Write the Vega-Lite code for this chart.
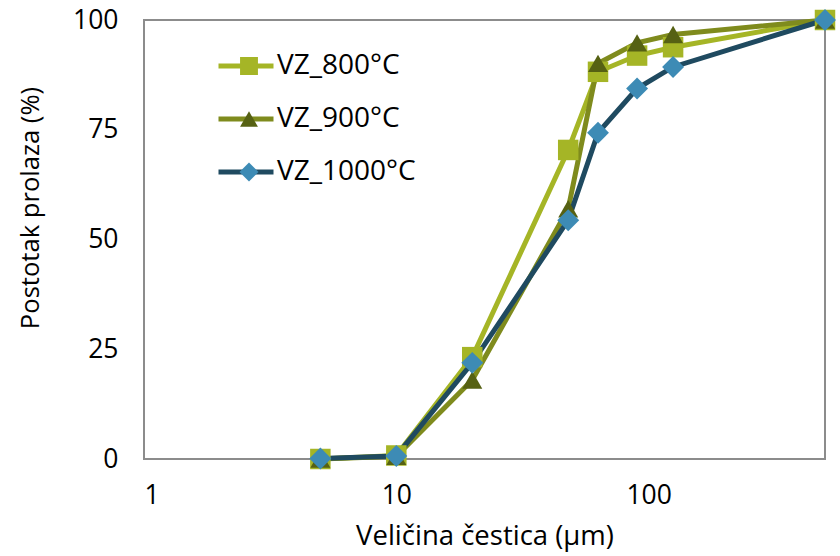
{
  "$schema": "https://vega.github.io/schema/vega-lite/v6.json",
  "width": 681,
  "height": 439,
  "autosize": {"type": "none"},
  "padding": {"left": 144, "top": 20, "right": 15, "bottom": 97},
  "background": "white",
  "config": {
    "font": "Open Sans",
    "view": {"stroke": "#8c8c8c", "strokeWidth": 2},
    "axis": {"grid": false, "ticks": false, "domain": false, "labelFont": "Open Sans", "labelFontSize": 26.5, "labelColor": "#000000", "titleFont": "Open Sans", "titleFontSize": 27.5, "titleFontWeight": "normal", "titleColor": "#000000"},
    "legend": {"orient": "none", "title": null, "padding": 0, "clipHeight": 28, "rowPadding": 25, "labelFont": "Open Sans", "labelFontSize": 28, "labelColor": "#000000", "labelOffset": 1}
  },
  "data": {
    "values": [
      {"s": "VZ_800°C", "d": 5, "p": 0},
      {"s": "VZ_800°C", "d": 10, "p": 0.8},
      {"s": "VZ_800°C", "d": 20, "p": 23.2},
      {"s": "VZ_800°C", "d": 48, "p": 70.4},
      {"s": "VZ_800°C", "d": 63, "p": 88.2},
      {"s": "VZ_800°C", "d": 90, "p": 91.9},
      {"s": "VZ_800°C", "d": 125, "p": 93.8},
      {"s": "VZ_800°C", "d": 500, "p": 100},
      {"s": "VZ_900°C", "d": 5, "p": 0},
      {"s": "VZ_900°C", "d": 10, "p": 0.6},
      {"s": "VZ_900°C", "d": 20, "p": 18},
      {"s": "VZ_900°C", "d": 48, "p": 57},
      {"s": "VZ_900°C", "d": 63, "p": 90.1},
      {"s": "VZ_900°C", "d": 90, "p": 94.8},
      {"s": "VZ_900°C", "d": 125, "p": 96.7},
      {"s": "VZ_900°C", "d": 500, "p": 100},
      {"s": "VZ_1000°C", "d": 5, "p": 0.1},
      {"s": "VZ_1000°C", "d": 10, "p": 0.7},
      {"s": "VZ_1000°C", "d": 20, "p": 21.9},
      {"s": "VZ_1000°C", "d": 48, "p": 54.4},
      {"s": "VZ_1000°C", "d": 63, "p": 74.3},
      {"s": "VZ_1000°C", "d": 90, "p": 84.4},
      {"s": "VZ_1000°C", "d": 125, "p": 89.3},
      {"s": "VZ_1000°C", "d": 500, "p": 100}
    ]
  },
  "resolve": {"scale": {"fill": "independent"}, "legend": {"fill": "independent"}},
  "layer": [
    {
      "mark": {"type": "line", "strokeWidth": 5},
      "encoding": {
        "x": {"field": "d", "type": "quantitative", "scale": {"type": "log", "domain": [1, 500], "nice": false}, "axis": {"values": [1, 10, 100], "format": "d", "title": "Veličina čestica (μm)", "labelPadding": 23, "titlePadding": 14}},
        "y": {"field": "p", "type": "quantitative", "scale": {"domain": [0, 100], "nice": false}, "axis": {"values": [0, 25, 50, 75, 100], "title": "Postotak prolaza (%)", "titleFontSize": 25.6, "titleY": 187.5, "labelPadding": 26, "titlePadding": 29}},
        "stroke": {"field": "s", "type": "nominal", "scale": {"domain": ["VZ_800°C", "VZ_900°C", "VZ_1000°C"], "range": ["#A5B526", "#7F8B1D", "#1F4A60"]},
          "legend": {"legendX": 72, "legendY": 32, "symbolType": "stroke", "symbolSize": 3025, "symbolStrokeWidth": 5}}
      }
    },
    {
      "transform": [{"filter": "datum.s === 'VZ_800°C'"}],
      "mark": {"type": "point", "shape": "square", "filled": true, "opacity": 1, "size": 420},
      "encoding": {
        "x": {"field": "d", "type": "quantitative"},
        "y": {"field": "p", "type": "quantitative"},
        "fill": {"field": "s", "type": "nominal", "scale": {"range": ["#A5B526"]},
          "legend": {"legendX": 91, "legendY": 32, "symbolType": "square", "symbolSize": 320, "symbolStrokeWidth": 0, "symbolOpacity": 1, "labelOpacity": 0}}
      }
    },
    {
      "transform": [{"filter": "datum.s === 'VZ_900°C'"}],
      "mark": {"type": "point", "shape": "triangle-up", "filled": true, "opacity": 1, "size": 400},
      "encoding": {
        "x": {"field": "d", "type": "quantitative"},
        "y": {"field": "p", "type": "quantitative"},
        "fill": {"field": "s", "type": "nominal", "scale": {"range": ["#566113"]},
          "legend": {"legendX": 91, "legendY": 85, "symbolType": "triangle-up", "symbolSize": 320, "symbolStrokeWidth": 0, "symbolOpacity": 1, "labelOpacity": 0}}
      }
    },
    {
      "transform": [{"filter": "datum.s === 'VZ_1000°C'"}],
      "mark": {"type": "point", "shape": "diamond", "filled": true, "opacity": 1, "size": 480},
      "encoding": {
        "x": {"field": "d", "type": "quantitative"},
        "y": {"field": "p", "type": "quantitative"},
        "fill": {"field": "s", "type": "nominal", "scale": {"range": ["#3D8BB5"]},
          "legend": {"legendX": 91, "legendY": 138, "symbolType": "diamond", "symbolSize": 360, "symbolStrokeWidth": 0, "symbolOpacity": 1, "labelOpacity": 0}}
      }
    }
  ]
}
